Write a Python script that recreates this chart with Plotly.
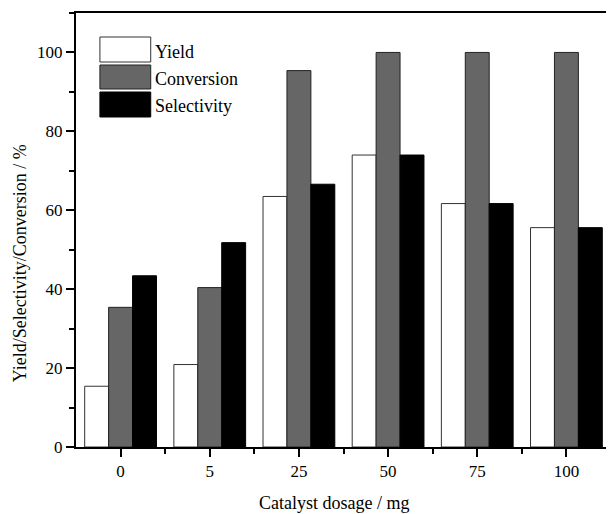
import plotly.graph_objects as go

categories = ["0", "5", "25", "50", "75", "100"]
yield_vals = [15.4, 20.9, 63.5, 74.0, 61.7, 55.6]
conversion_vals = [35.4, 40.4, 95.4, 100.0, 100.0, 100.0]
selectivity_vals = [43.4, 51.8, 66.6, 74.0, 61.7, 55.6]
series_names = ["Yield", "Conversion", "Selectivity"]
y_tick_vals = [0, 20, 40, 60, 80, 100]

FONT = "'Liberation Serif', 'Times New Roman', Times, serif"
fills = ["#ffffff", "#666666", "#000000"]
edges = ["#333333", "#222222", "#000000"]

xpos = list(range(len(categories)))

# page body has an 8px margin: figure occupies window pixels 8..614 / 8..514
OFF = 8
FIG_W, FIG_H = 614 - OFF, 514 - OFF
L, R, T, B = 76, 613, 13, 447  # plot area in window pixels
W, H = float(R - L), float(B - T)

fig = go.Figure()
for name, vals, fc, ec in zip(series_names, [yield_vals, conversion_vals, selectivity_vals], fills, edges):
    fig.add_trace(go.Bar(x=xpos, y=vals, name=name, marker=dict(color=fc, line=dict(color=ec, width=1)),
                         showlegend=False))

def px(x):
    return (x - L) / W
def py(y):
    return (B - y) / H

sw = [(37, 62), (65, 89), (92, 117)]
for (t, b), name, fc, ec in zip(sw, series_names, fills, edges):
    fig.add_shape(type="rect", xref="paper", yref="paper", x0=px(100), x1=px(151), y0=py(b), y1=py(t),
                  fillcolor=fc, line=dict(color=ec, width=1))
    fig.add_annotation(xref="paper", yref="paper", x=px(153), y=py((t + b) / 2 + 2), text=name,
                       showarrow=False, xanchor="left", yanchor="middle",
                       font=dict(family=FONT, size=18, color="black"))

fig.add_annotation(xref="paper", yref="paper", x=px(335), y=py(503), text="Catalyst dosage / mg",
                   showarrow=False, xanchor="center", yanchor="middle",
                   font=dict(family=FONT, size=18, color="black"))
fig.add_annotation(xref="paper", yref="paper", x=px(20), y=py(263), text="Yield/Selectivity/Conversion / %",
                   showarrow=False, textangle=-90, xanchor="center", yanchor="middle",
                   font=dict(family=FONT, size=18, color="black"))

fig.update_layout(
    width=FIG_W, height=FIG_H,
    margin=dict(l=L - OFF, r=FIG_W - (R - OFF), t=T - OFF, b=FIG_H - (B - OFF)),
    paper_bgcolor="white", plot_bgcolor="white",
    barmode="group", bargap=0.195, bargroupgap=0,
    font=dict(family=FONT, size=17, color="black"),
    xaxis=dict(range=[-0.5, len(categories) - 0.5], tickmode="array", tickvals=xpos, ticktext=categories,
               ticks="outside", ticklen=8, tickwidth=1.5, tickcolor="black",
               showline=True, linecolor="black", linewidth=2, mirror=True,
               showgrid=False, zeroline=False,
               minor=dict(tickmode="array", tickvals=[i + 0.5 for i in xpos[:-1]], ticks="outside",
                          ticklen=5, tickwidth=1.5, tickcolor="black"),
               tickfont=dict(family=FONT, size=17)),
    yaxis=dict(range=[0, 110], tickmode="array", tickvals=y_tick_vals,
               ticks="outside", ticklen=8, tickwidth=1.5, tickcolor="black",
               showline=True, linecolor="black", linewidth=2, mirror=True,
               showgrid=False, zeroline=False,
               minor=dict(tickmode="linear", tick0=10, dtick=20, ticks="outside",
                          ticklen=5, tickwidth=1.5, tickcolor="black"),
               tickfont=dict(family=FONT, size=17)),
)

fig.write_html("out.html")
